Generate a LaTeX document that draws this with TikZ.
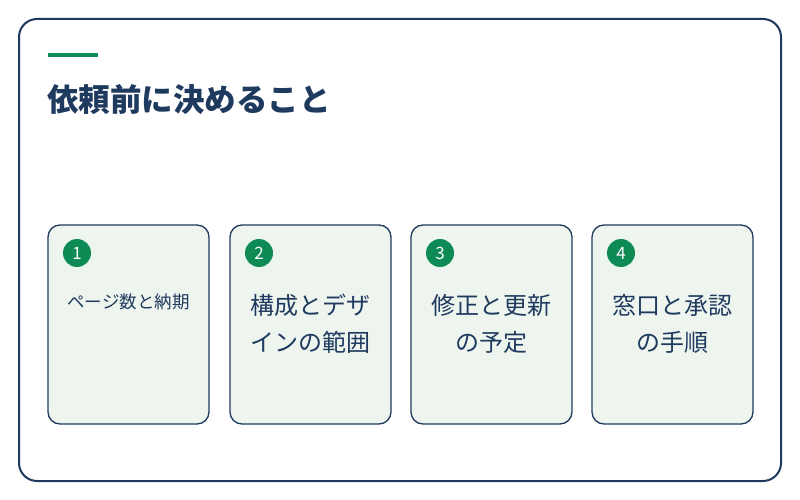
\documentclass[tikz,border=0pt]{standalone}
\usepackage{fontspec}
\setmainfont{Noto Sans CJK JP}
\definecolor{navy}{HTML}{1F3A5F}
\definecolor{grn}{HTML}{0E8A55}
\definecolor{cardbg}{HTML}{EEF5EF}
\begin{document}
\begin{tikzpicture}[x=1pt,y=-1pt,
  card/.style={draw=navy,line width=1.3pt,fill=cardbg,rounded corners=12pt},
  num/.style={circle,fill=grn,minimum size=28pt,inner sep=0pt,text=white,font=\fontsize{17}{17}\selectfont},
  lbl/.style={text=navy,align=center,font=\fontsize{24}{37}\selectfont}]
\useasboundingbox (0,0) rectangle (800,500);
\draw[navy,line width=2pt,rounded corners=18pt,fill=white] (19,19) rectangle (781,481);
\fill[grn] (48,53) rectangle (98,57);
\node[anchor=base west,inner sep=0pt,text=navy,font=\fontsize{31.5}{31.5}\selectfont\bfseries] (title) at (47,112) {依頼前に決めること};
\foreach \i/\x/\n in {1/48/1,2/230/2,3/411/3,4/592/4}{
  \draw[card] (\x,225) rectangle (\x+161,424);
  \node[num] (n\i) at (\x+29,253) {\n};
}
\node[text=navy,font=\fontsize{17.5}{17.5}\selectfont] (t1) at (128.5,302) {ページ数と納期};
\node[lbl] (t2) at (310,324) {構成とデザ\\インの範囲};
\node[lbl] (t3) at (491,324) {修正と更新\\の予定};
\node[lbl] (t4) at (672,324) {窓口と承認\\の手順};
\end{tikzpicture}
\end{document}
